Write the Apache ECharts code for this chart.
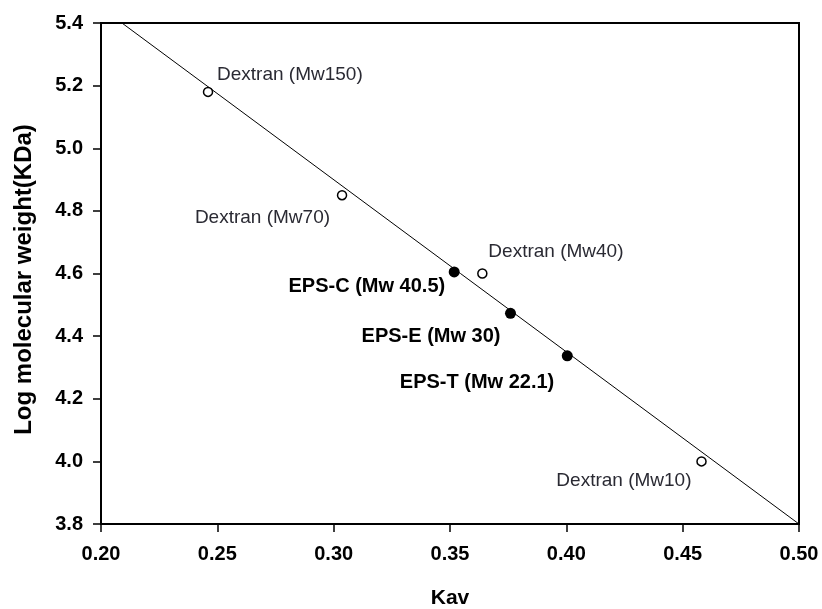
<!DOCTYPE html>
<html>
<head>
<meta charset="utf-8">
<script src="https://cdn.jsdelivr.net/npm/echarts@6/dist/echarts.min.js"></script>
<style>
  html, body { margin: 0; padding: 0; background: #fff; }
  #chart { width: 822px; height: 609px; }
</style>
</head>
<body>
<div id="chart"></div>
<script>
// standards (open circles)
const dextranNames = ['Dextran (Mw150)', 'Dextran (Mw70)', 'Dextran (Mw40)', 'Dextran (Mw10)'];
const dextranKav = [0.246, 0.3036, 0.3639, 0.4581];
const dextranLogMw = [5.18, 4.85, 4.60, 4.00];

// samples (filled circles)
const epsNames = ['EPS-C (Mw 40.5)', 'EPS-E (Mw 30)', 'EPS-T (Mw 22.1)'];
const epsKav = [0.3518, 0.376, 0.4004];
const epsLogMw = [4.605, 4.473, 4.337];

// calibration line, end points
const fitKav = [0.209, 0.50];
const fitLogMw = [5.40, 3.80];

// label placement: [align, dx, dy] from the point
const dextranLabelPos = [['left', 9, -17], ['right', -12, 23], ['left', 6, -22], ['right', -10, 19]];
const epsLabelPos = [['right', -9, 15], ['right', -10, 23], ['right', -13, 27]];

const FONT = "'Liberation Sans', Arial, sans-serif";

const chart = echarts.init(document.getElementById('chart'));

function pointData(xs, ys, names, pos) {
  return xs.map((x, i) => ({
    value: [x, ys[i]],
    name: names[i],
    label: {
      align: pos[i][0],
      offset: [pos[i][1], pos[i][2]]
    }
  }));
}

const option = {
  animation: false,
  backgroundColor: '#fff',
  grid: {
    left: 101,
    right: 23,
    top: 23,
    bottom: 85,
    containLabel: false,
    outerBoundsMode: 'none',
    show: true,
    borderColor: '#000',
    borderWidth: 2,
    backgroundColor: 'transparent'
  },
  xAxis: {
    type: 'value',
    min: 0.2,
    max: 0.5,
    interval: 0.05,
    name: 'Kav',
    nameLocation: 'middle',
    nameGap: 64,
    nameTextStyle: { fontFamily: FONT, fontWeight: 'bold', fontSize: 21, color: '#000' },
    axisLine: { show: true, onZero: false, lineStyle: { color: '#000', width: 2 } },
    axisTick: { show: true, length: 8, lineStyle: { color: '#000', width: 1.5 } },
    axisLabel: {
      margin: 20,
      fontFamily: FONT, fontWeight: 'bold', fontSize: 20, color: '#000',
      formatter: v => v.toFixed(2)
    },
    splitLine: { show: false }
  },
  yAxis: {
    type: 'value',
    min: 3.8,
    max: 5.4,
    interval: 0.2,
    name: 'Log molecular weight(KDa)',
    nameLocation: 'middle',
    nameGap: 65,
    nameTextStyle: {
      fontFamily: FONT, fontWeight: 'bold', fontSize: 24, color: '#000',
      padding: [0, 12, 0, 0]
    },
    axisLine: { show: true, onZero: false, lineStyle: { color: '#000', width: 2 } },
    axisTick: { show: true, length: 8, lineStyle: { color: '#000', width: 1.5 } },
    axisLabel: {
      margin: 18,
      fontFamily: FONT, fontWeight: 'bold', fontSize: 20, color: '#000',
      formatter: v => v.toFixed(1)
    },
    splitLine: { show: false }
  },
  series: [
    {
      type: 'line',
      data: fitKav.map((x, i) => [x, fitLogMw[i]]),
      symbol: 'none',
      lineStyle: { color: '#000', width: 1 },
      z: 1,
      silent: true
    },
    {
      type: 'scatter',
      data: pointData(dextranKav, dextranLogMw, dextranNames, dextranLabelPos),
      symbol: 'circle',
      symbolSize: 9,
      itemStyle: { color: '#fff', borderColor: '#000', borderWidth: 1.5, opacity: 1 },
      label: {
        show: true,
        position: 'inside',
        verticalAlign: 'middle',
        formatter: p => p.name,
        fontFamily: FONT, fontSize: 19, color: '#2a2a33'
      },
      z: 3
    },
    {
      type: 'scatter',
      data: pointData(epsKav, epsLogMw, epsNames, epsLabelPos),
      symbol: 'circle',
      symbolSize: 11,
      itemStyle: { color: '#000', opacity: 1 },
      label: {
        show: true,
        position: 'inside',
        verticalAlign: 'middle',
        formatter: p => p.name,
        fontFamily: FONT, fontWeight: 'bold', fontSize: 20, color: '#000'
      },
      z: 3
    }
  ]
};

chart.setOption(option);
</script>
</body>
</html>
